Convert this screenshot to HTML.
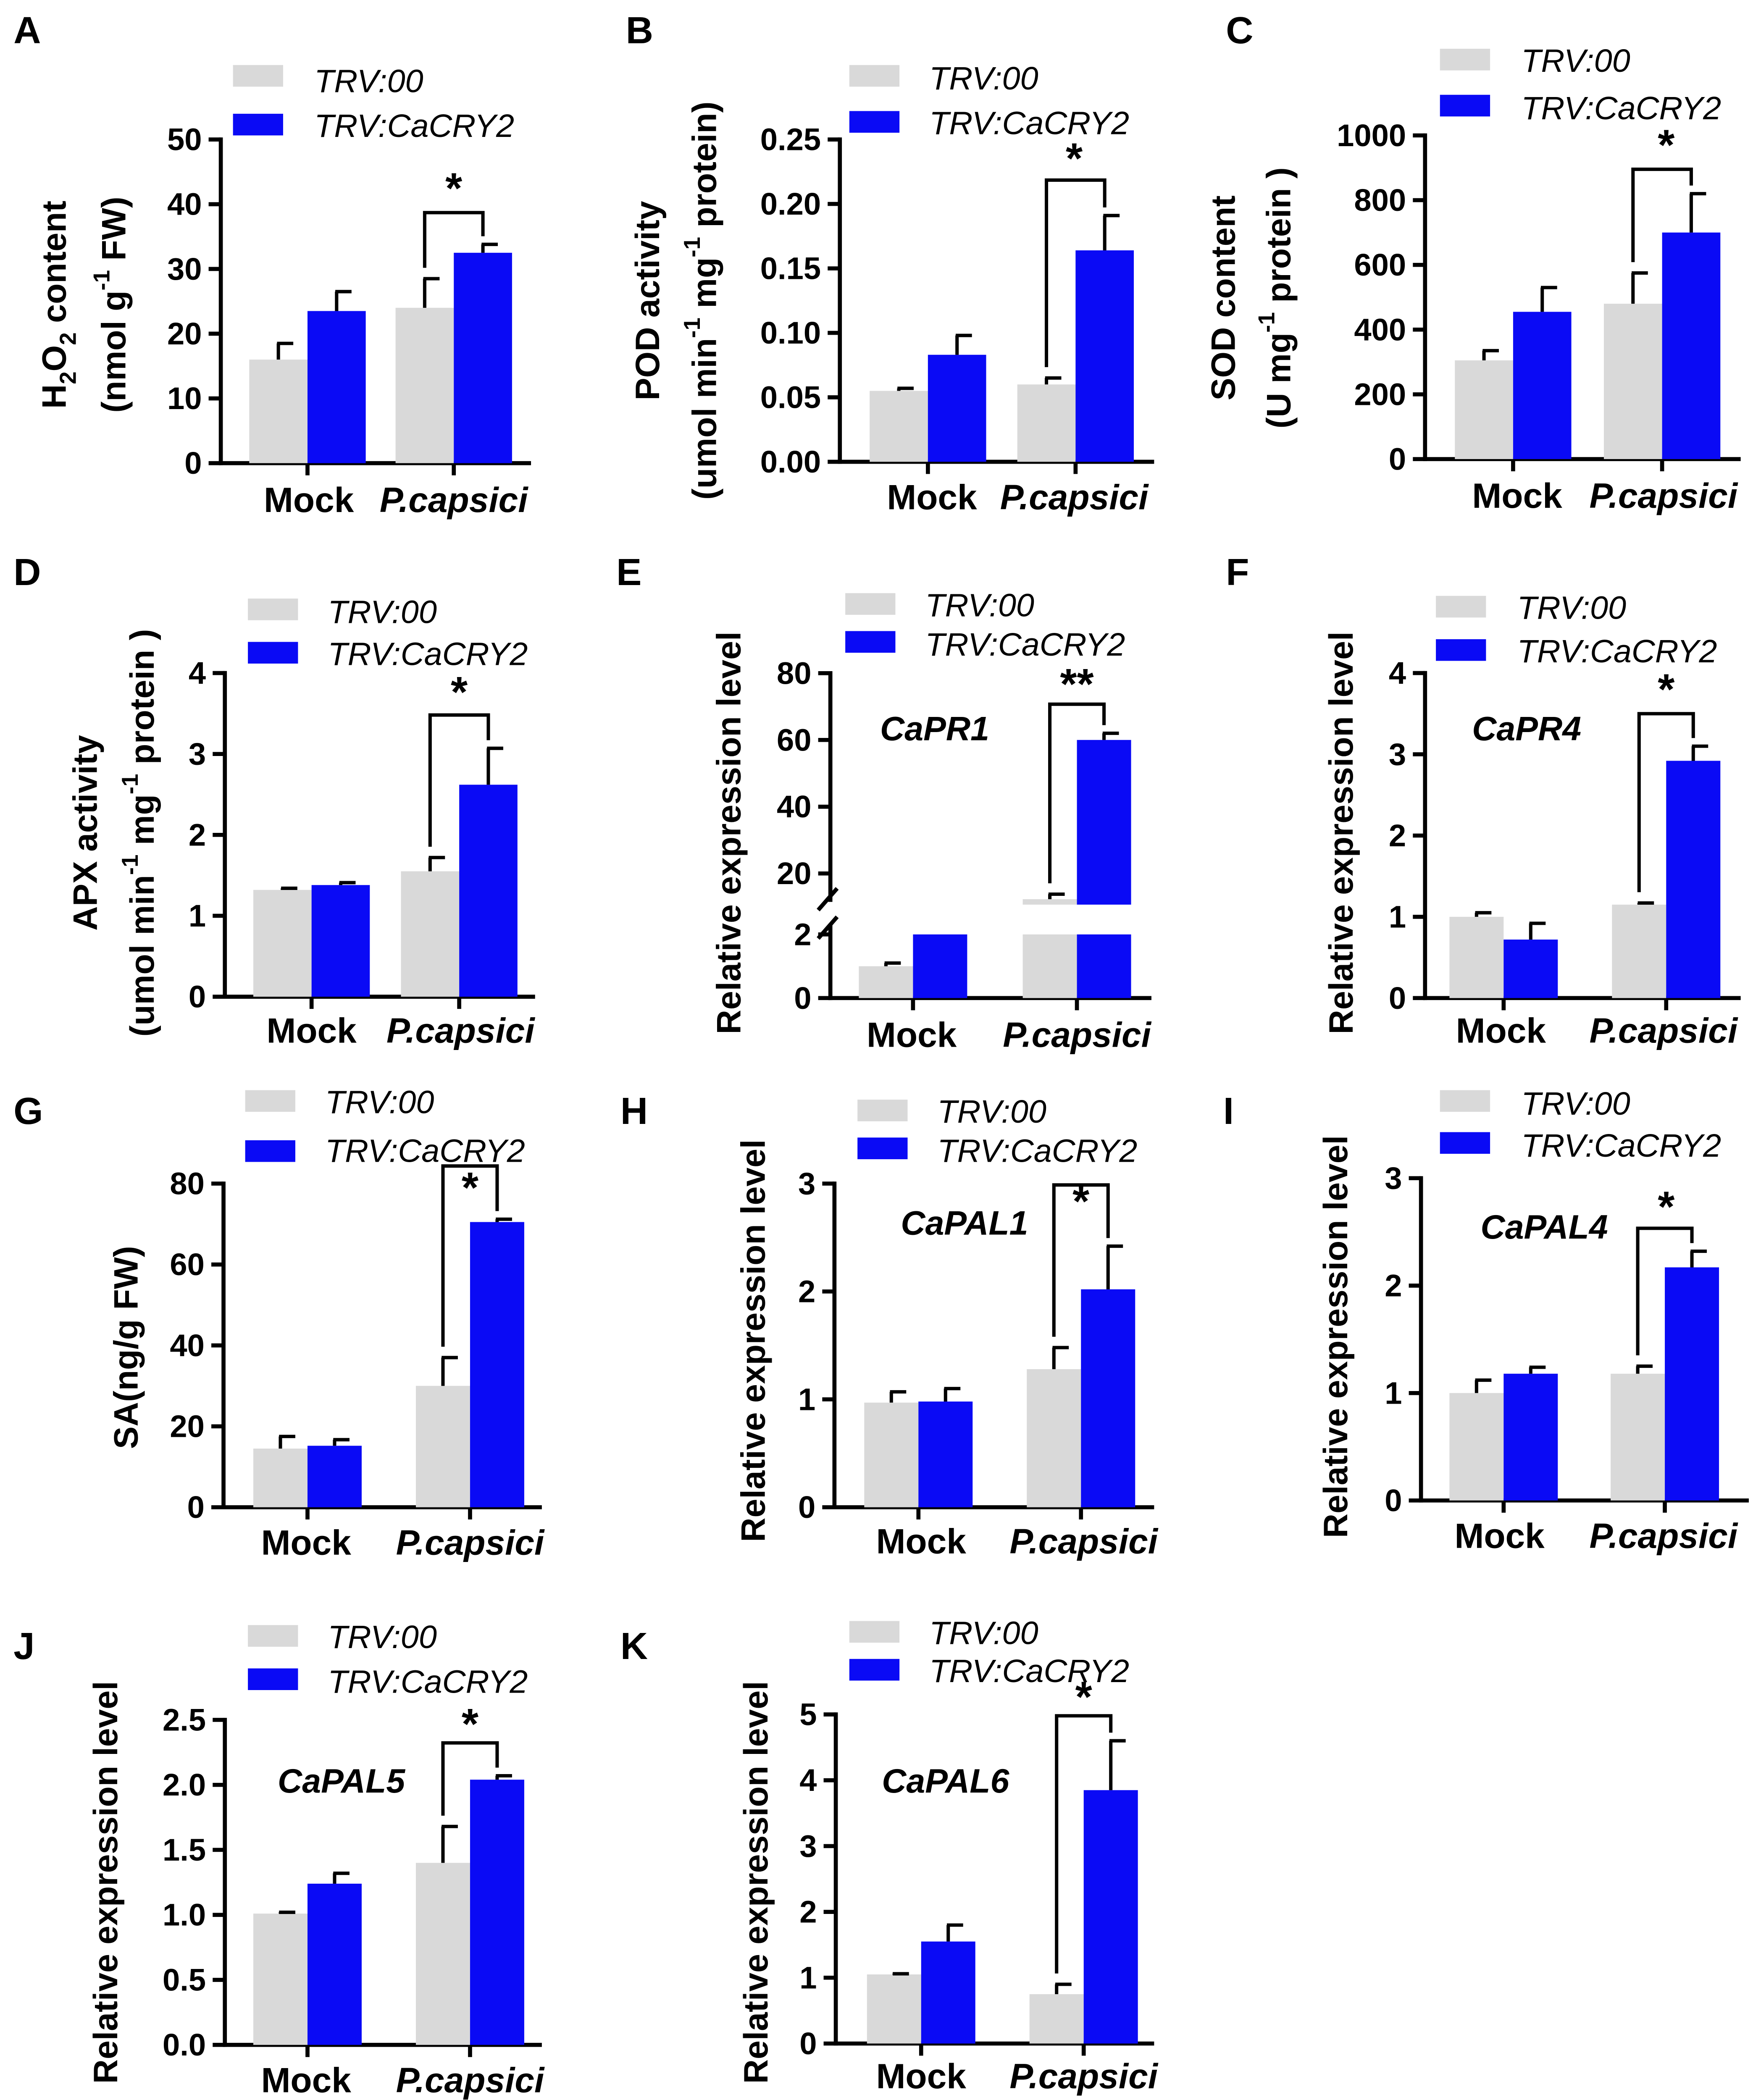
<!DOCTYPE html>
<html><head><meta charset="utf-8"><style>
html,body{margin:0;padding:0;background:#fff;overflow:hidden;width:4192px;height:5059px}
svg{display:block}
text{font-family:"Liberation Sans",Arial,sans-serif}
</style></head><body>
<svg id="fig" xmlns="http://www.w3.org/2000/svg" width="4192" height="5059" viewBox="0 0 1300 1569" preserveAspectRatio="none"></svg>
<script>
// ---- data ----
const groups=["Mock","P.capsici"];
const seriesNames=["TRV:00","TRV:CaCRY2"];
const A_gray=[16,24],A_grayErr=[2.5,4.5],A_blue=[23.5,32.5],A_blueErr=[3,1.3],A_ticks=[0,10,20,30,40,50];
const B_gray=[0.055,0.06],B_grayErr=[0.002,0.005],B_blue=[0.083,0.164],B_blueErr=[0.015,0.027],B_ticks=["0.00","0.05","0.10","0.15","0.20","0.25"];
const C_gray=[305,480],C_grayErr=[30,95],C_blue=[455,700],C_blueErr=[75,120],C_ticks=[0,200,400,600,800,1000];
const D_gray=[1.32,1.55],D_grayErr=[0.02,0.17],D_blue=[1.38,2.62],D_blueErr=[0.03,0.45],D_ticks=[0,1,2,3,4];
const E_gray=[1,12.3],E_grayErr=[0.1,1.5],E_blue=[2,60],E_blueErr=[0,2],E_ticks=[0,2,20,40,60,80];
const F_gray=[1.0,1.15],F_grayErr=[0.05,0.02],F_blue=[0.72,2.92],F_blueErr=[0.2,0.18],F_ticks=[0,1,2,3,4];
const G_gray=[14.5,30],G_grayErr=[3,7],G_blue=[15.2,70.5],G_blueErr=[1.5,0.7],G_ticks=[0,20,40,60,80];
const H_gray=[0.97,1.28],H_grayErr=[0.1,0.2],H_blue=[0.98,2.02],H_blueErr=[0.12,0.4],H_ticks=[0,1,2,3];
const I_gray=[1.0,1.18],I_grayErr=[0.12,0.07],I_blue=[1.18,2.17],I_blueErr=[0.06,0.15],I_ticks=[0,1,2,3];
const J_gray=[1.01,1.4],J_grayErr=[0.01,0.28],J_blue=[1.24,2.04],J_blueErr=[0.08,0.03],J_ticks=["0.0","0.5","1.0","1.5","2.0","2.5"];
const K_gray=[1.05,0.75],K_grayErr=[0.01,0.15],K_blue=[1.55,3.85],K_blueErr=[0.25,0.75],K_ticks=[0,1,2,3,4,5];

const NS="http://www.w3.org/2000/svg";
const svg=document.getElementById('fig');
function mk(tag,attrs,parent,txt){const e=document.createElementNS(NS,tag);for(const k in attrs)e.setAttribute(k,attrs[k]);if(txt!==undefined)e.textContent=txt;(parent||svg).appendChild(e);return e;}
const GRAY="#d9d9d9",BLUE="#0a0af5";

const panels=[
 {L:"A",lx:10,ly:32,ax:163,yt:103,yb:342,max:50,ticks:A_ticks,g:A_gray,ge:A_grayErr,b:A_blue,be:A_blueErr,bx:[184,292],bw:43,xe:392,lab:[228,335,378],lr:[172,48,84],ltx:232,ly1:60,ly2:93,br:157,star:[335,150],ytl:[[42,225,"h2o2"],[86,225,"(nmol g<-1> FW)"]]},
 {L:"B",lx:462,ly:32,ax:620,yt:103,yb:341,max:0.25,ticks:B_ticks,g:B_gray,ge:B_grayErr,b:B_blue,be:B_blueErr,bx:[642,751],bw:43,xe:852,lab:[688,793,376],lr:[627,48,82],ltx:686,ly1:58,ly2:91,br:133,star:[793,128],ytl:[[480,222,"POD activity"],[522,222,"(umol  min<-1> mg<-1> protein)"]]},
 {L:"C",lx:905,ly:32,ax:1052,yt:100,yb:339,max:1000,ticks:C_ticks,g:C_gray,ge:C_grayErr,b:C_blue,be:C_blueErr,bx:[1074,1184],bw:43,xe:1285,lab:[1120,1228,375],lr:[1063,36,70],ltx:1123,ly1:45,ly2:80,br:125,star:[1230,118],ytl:[[905,220,"SOD content"],[946,220,"(U mg<-1> protein )"]]},
 {L:"D",lx:10,ly:432,ax:166,yt:497,yb:736,max:4,ticks:D_ticks,g:D_gray,ge:D_grayErr,b:D_blue,be:D_blueErr,bx:[187,296],bw:43,xe:395,lab:[230,340,770],lr:[183,442,474],ltx:242,ly1:452,ly2:483,br:528,star:[339,522],ytl:[[65,615,"APX activity"],[107,615,"(umol min<-1> mg<-1> protein  )"]]},
 {L:"E",lx:455,ly:432,ax:613,broken:true,ticks:E_ticks,g:E_gray,ge:E_grayErr,b:E_blue,be:E_blueErr,bx:[634,755],bw:40,xe:850,lab:[673,795,773],lr:[624,438,466],ltx:683,ly1:447,ly2:476,br:520,star:[795,516],stars:"**",gene:["CaPR1",690,540],ytl:[[540,615,"Relative expression level"]]},
 {L:"F",lx:905,ly:432,ax:1052,yt:497,yb:737,max:4,ticks:F_ticks,g:F_gray,ge:F_grayErr,b:F_blue,be:F_blueErr,bx:[1070,1190],bw:40,xe:1285,lab:[1108,1228,770],lr:[1060,440,472],ltx:1120,ly1:449,ly2:481,br:527,star:[1230,520],gene:["CaPR4",1127,540],ytl:[[992,615,"Relative expression level"]]},
 {L:"G",lx:10,ly:830,ax:165,yt:874,yb:1113,max:80,ticks:G_ticks,g:G_gray,ge:G_grayErr,b:G_blue,be:G_blueErr,bx:[187,307],bw:40,xe:400,lab:[226,347,1148],lr:[181,805,842],ltx:240,ly1:814,ly2:850,br:861,star:[347,888],ytl:[[95,995,"SA(ng/g FW)"]]},
 {L:"H",lx:458,ly:830,ax:616,yt:874,yb:1113,max:3,ticks:H_ticks,g:H_gray,ge:H_grayErr,b:H_blue,be:H_blueErr,bx:[638,758],bw:40,xe:852,lab:[680,800,1147],lr:[633,812,840],ltx:692,ly1:821,ly2:850,br:875,star:[798,898],gene:["CaPAL1",712,905],ytl:[[558,990,"Relative expression level"]]},
 {L:"I",lx:903,ly:830,ax:1049,yt:870,yb:1108,max:3,ticks:I_ticks,g:I_gray,ge:I_grayErr,b:I_blue,be:I_blueErr,bx:[1070,1189],bw:40,xe:1291,lab:[1107,1228,1143],lr:[1063,805,836],ltx:1123,ly1:815,ly2:846,br:907,star:[1230,902],gene:["CaPAL4",1140,908],ytl:[[988,987,"Relative expression level"]]},
 {L:"J",lx:10,ly:1225,ax:166,yt:1270,yb:1510,max:2.5,ticks:J_ticks,g:J_gray,ge:J_grayErr,b:J_blue,be:J_blueErr,bx:[187,307],bw:40,xe:400,lab:[226,347,1545],lr:[183,1200,1232],ltx:242,ly1:1209,ly2:1242,br:1287,star:[347,1284],gene:["CaPAL5",252,1317],ytl:[[80,1390,"Relative expression level"]]},
 {L:"K",lx:458,ly:1225,ax:617,yt:1266,yb:1509,max:5,ticks:K_ticks,g:K_gray,ge:K_grayErr,b:K_blue,be:K_blueErr,bx:[640,760],bw:40,xe:852,lab:[680,800,1542],lr:[627,1197,1225],ltx:686,ly1:1206,ly2:1234,br:1267,star:[800,1264],gene:["CaPAL6",698,1317],ytl:[[560,1390,"Relative expression level"]]}
];

function addTitle(g,x,y,str){
  const t=mk('text',{x:0,y:0,transform:`translate(${x},${y}) rotate(-90)`,'text-anchor':'middle','dominant-baseline':'middle','font-size':25,'font-weight':'bold'},g);
  
  
  if(str==="h2o2"){
    mk('tspan',{},t,"H");mk('tspan',{'baseline-shift':'sub','font-size':17},t,"2");mk('tspan',{},t,"O");mk('tspan',{'baseline-shift':'sub','font-size':17},t,"2");mk('tspan',{},t," content");return;
  }
  const parts=str.split(/(<[^>]+>)/);
  parts.forEach(p=>{if(!p)return;if(p[0]==='<')mk('tspan',{'baseline-shift':'super','font-size':17},t,p.slice(1,-1));else mk('tspan',{},t,p);});
}

panels.forEach(P=>{
  const g=mk('g',{});
  
  
  const lt=mk('text',{x:P.lx,y:P.ly,'font-size':28,'font-weight':'bold'},g,P.L);
  
  
  let Y, yb;
  if(P.broken){
    yb=737;
    Y=v=> v<=2 ? 737-v/2*47 : 645-(v-20)/20*49.3;
  } else {
    yb=P.yb;
    Y=v=>P.yb-v/P.max*(P.yb-P.yt);
  }
  const ax=mk('g',{stroke:'#000','stroke-width':3,fill:'none'},g);
  
  
  if(P.broken){
    mk('line',{x1:P.ax,y1:Y(80)-1.5,x2:P.ax,y2:666},ax);
    mk('line',{x1:P.ax,y1:683,x2:P.ax,y2:yb+1.5},ax);
    mk('line',{x1:P.ax-9,y1:672,x2:P.ax+5,y2:656},ax);
    mk('line',{x1:P.ax-9,y1:693,x2:P.ax+5,y2:677},ax);
  } else {
    mk('line',{x1:P.ax,y1:P.yt-1.5,x2:P.ax,y2:yb+1.5},ax);
  }
  mk('line',{x1:P.ax-1.5,y1:yb,x2:P.xe,y2:yb},ax);
  P.ticks.forEach(tv=>{
    const y=Y(parseFloat(tv));
    mk('line',{x1:P.ax-9,y1:y,x2:P.ax,y2:y},ax);
    const tt=mk('text',{x:P.ax-14,y:y,'text-anchor':'end','dominant-baseline':'central','font-size':23,'font-weight':'bold'},g,String(tv));
    
    
  });
  [0,1].forEach(i=>{
    const cx=P.bx[i]+P.bw;
    mk('line',{x1:cx,y1:yb,x2:cx,y2:yb+9},ax);
    const xl=mk('text',{x:P.lab[i],y:P.lab[2],'text-anchor':'middle','font-size':26,'font-weight':'bold','font-style':i?'italic':'normal'},g,groups[i]);
    
    
  });
  const tops=[];
  [0,1].forEach(i=>{
    [[P.g,P.ge,GRAY,P.bx[i]],[P.b,P.be,BLUE,P.bx[i]+P.bw]].forEach((s,k)=>{
      const v=s[0][i],e=s[1][i],x=s[3];
      if(P.broken && v>2){
        const r1=mk('rect',{x:x,y:Y(2),width:P.bw,height:yb-Y(2),fill:s[2]},g);
        
        
        const r2=mk('rect',{x:x,y:Y(v),width:P.bw,height:668-Y(v),fill:s[2]},g);
        
        
      } else {
        const r=mk('rect',{x:x,y:Y(v),width:P.bw,height:yb-Y(v),fill:s[2]},g);
        
        
      }
      const cx=x+P.bw/2;
      if(e>0){
        const ey=Y(v+e);
        mk('line',{x1:cx,y1:Y(v),x2:cx,y2:ey,stroke:'#000','stroke-width':2.5},g);
        mk('line',{x1:cx-1,y1:ey,x2:cx+11,y2:ey,stroke:'#000','stroke-width':2.5},g);
      }
      tops.push([cx,Y(v+e)]);
    });
  });
  const L=tops[2],R=tops[3];
  const br=mk('polyline',{points:`${L[0]},${L[1]-8} ${L[0]},${P.br} ${R[0]},${P.br} ${R[0]},${R[1]-6}`,fill:'none',stroke:'#000','stroke-width':2.5},g);
  
  
  const st=mk('text',{x:P.star[0],y:P.star[1],'text-anchor':'middle','font-size':32,'font-weight':'bold'},g,P.stars||"*");
  
  
  if(P.gene){
    const gt=mk('text',{x:P.gene[1],y:P.gene[2],'text-anchor':'middle','dominant-baseline':'middle','font-size':25,'font-weight':'bold','font-style':'italic'},g,P.gene[0]);
    
    
  }
  [[GRAY,P.lr[1],P.ly1,0],[BLUE,P.lr[2],P.ly2,1]].forEach(l=>{
    const lr=mk('rect',{x:P.lr[0],y:l[1],width:37,height:16,fill:l[0]},g);
    
    
    const ltx=mk('text',{x:P.ltx,y:l[2],'dominant-baseline':'central','font-size':24,'font-style':'italic'},g,seriesNames[l[3]]);
    
    
  });
  P.ytl.forEach(t=>addTitle(g,t[0],t[1],t[2]));
});
</script>
</body></html>
